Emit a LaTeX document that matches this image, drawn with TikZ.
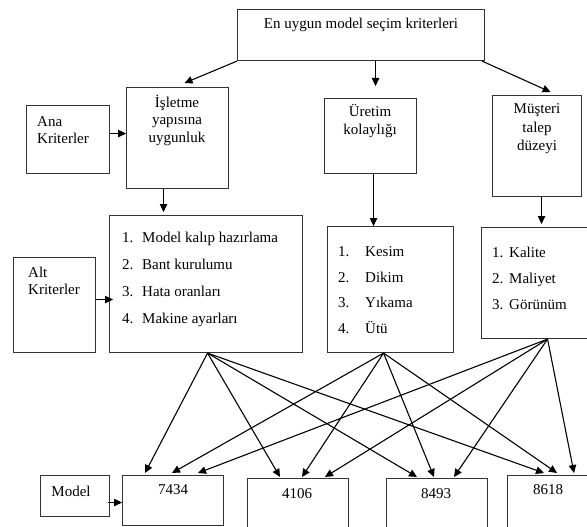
\documentclass[tikz,border=0pt]{standalone}
\usepackage{fontspec}
\setmainfont{Liberation Serif}
\usetikzlibrary{arrows.meta}
\begin{document}
\begin{tikzpicture}[x=1pt,y=-1pt,
  box/.style={draw=black!80, line width=1.1pt, rectangle, anchor=north west, inner sep=0pt},
  arr/.style={-{Triangle[length=8pt,width=7.5pt]}, line width=1.1pt, black},
  txt/.style={inner sep=0pt, font=\fontsize{15}{17.5}\selectfont, align=center}
]
\useasboundingbox (0,0) rectangle (587,527);
\clip (0,0) rectangle (587,527);
\fill[white] (0,0) rectangle (587,527);

% boxes
\node[box, minimum width=247pt, minimum height=51pt]  (top)   at (237,9)   {};
\node[box, minimum width=102pt, minimum height=101pt] (isl)   at (126,87)  {};
\node[box, minimum width=83pt,  minimum height=68pt]  (ana)   at (26,105)  {};
\node[box, minimum width=92pt,  minimum height=75pt]  (ure)   at (324,98)  {};
\node[box, minimum width=89pt,  minimum height=101pt] (mus)   at (492,95)  {};
\node[box, minimum width=193pt, minimum height=137pt] (l1)    at (109,215) {};
\node[box, minimum width=82pt,  minimum height=95pt]  (alt)   at (13,257)  {};
\node[box, minimum width=126pt, minimum height=126pt] (l2)    at (327,226) {};
\node[box, minimum width=109pt, minimum height=111pt] (l3)    at (481,227) {};
\node[box, minimum width=69pt,  minimum height=41pt]  (model) at (40,475)  {};
\node[box, minimum width=101pt, minimum height=50pt]  (b7434) at (122,475) {};
\node[box, minimum width=101pt, minimum height=54pt]  (b4106) at (247,478) {};
\node[box, minimum width=101pt, minimum height=54pt]  (b8493) at (386,478) {};
\node[box, minimum width=95pt,  minimum height=57pt]  (b8618) at (507,475) {};

% texts
\node[txt] (ttop) at (361,25) {En uygun model seçim kriterleri};
\node[txt] (tisl) at (177,120) {İşletme\\yapısına\\uygunluk};
\node[txt, align=left, anchor=west] (tana) at (37,130) {Ana\\Kriterler};
\node[txt] (ture) at (370,121) {Üretim\\kolaylığı};
\node[txt, font=\fontsize{15}{18.5}\selectfont] (tmus) at (537,129) {Müşteri\\talep\\düzeyi};
\node[txt, align=left, anchor=west] (talt) at (28,281) {Alt\\Kriterler};
\node[txt, align=left, anchor=west] (tl1) at (122,279)
  {\makebox[20pt][l]{1.}Model kalıp hazırlama\\[9.5pt]
   \makebox[20pt][l]{2.}Bant kurulumu\\[9.5pt]
   \makebox[20pt][l]{3.}Hata oranları\\[9.5pt]
   \makebox[20pt][l]{4.}Makine ayarları};
\node[txt, align=left, anchor=west] (tl2) at (338,290)
  {\makebox[27pt][l]{1.}Kesim\\[8.2pt]
   \makebox[27pt][l]{2.}Dikim\\[8.2pt]
   \makebox[27pt][l]{3.}Yıkama\\[8.2pt]
   \makebox[27pt][l]{4.}Ütü};
\node[txt, align=left, anchor=west] (tl3) at (492,278)
  {\makebox[17pt][l]{1.}Kalite\\[8.5pt]
   \makebox[17pt][l]{2.}Maliyet\\[8.5pt]
   \makebox[17pt][l]{3.}Görünüm};
\node[txt] (tmodel) at (71,491) {Model};
\node[txt] (t7434) at (173,490) {7434};
\node[txt] (t4106) at (297,494) {4106};
\node[txt] (t8493) at (436,494) {8493};
\node[txt] (t8618) at (548,490) {8618};

% top level arrows
\draw[arr] (top.south west) -- ([xshift=7pt,yshift=4pt]isl.north);
\draw[arr] ([xshift=14.5pt]top.south) -- ([xshift=5pt,yshift=12pt]ure.north);
\draw[arr] ([xshift=-3pt]top.south east) -- ([xshift=13.5pt,yshift=3pt]mus.north);
\draw[arr] ([yshift=6pt]ana.east) -- ([yshift=6pt]ana.east -| isl.west);
\coordinate (ia) at ([xshift=-14pt]isl.south);
\draw[arr] (ia) -- ([yshift=3pt]ia |- l1.north);
\coordinate (ua) at ([xshift=3pt]ure.south);
\draw[arr] (ua) -- (ua |- l2.north);
\coordinate (ma) at ([xshift=4.5pt]mus.south);
\draw[arr] (ma) -- ([yshift=3pt]ma |- l3.north);
\draw[arr] ([yshift=5.5pt]alt.east) -- ([yshift=5.5pt,xshift=4pt]alt.east -| l1.west);
\draw[arr] ([yshift=-6.5pt,xshift=-2pt]model.east) -- ([yshift=-6.5pt]model.east -| b7434.west);

% cross arrows
\coordinate (s1) at ([xshift=1.5pt]l1.south);
\coordinate (s2) at ([xshift=-7pt]l2.south);
\coordinate (s3) at ([xshift=11.5pt]l3.south);
\draw[arr] (s1) -- ([xshift=23pt,yshift=2pt]b7434.north west);
\draw[arr] (s2) -- ([xshift=50pt,yshift=2pt]b7434.north west);
\draw[arr] (s3) -- ([xshift=76pt,yshift=2pt]b7434.north west);
\draw[arr] (s1) -- ([xshift=33pt,yshift=1pt]b4106.north west);
\draw[arr] (s2) -- ([xshift=55pt,yshift=1pt]b4106.north west);
\draw[arr] (s3) -- ([xshift=78pt,yshift=1pt]b4106.north west);
\draw[arr] (s1) -- ([xshift=31pt,yshift=1pt]b8493.north west);
\draw[arr] (s2) -- ([xshift=48pt,yshift=1pt]b8493.north west);
\draw[arr] (s3) -- ([xshift=68pt,yshift=1pt]b8493.north west);
\draw[arr] (s1) -- ([xshift=37pt,yshift=2pt]b8618.north west);
\draw[arr] (s2) -- ([xshift=50pt,yshift=2pt]b8618.north west);
\draw[arr] (s3) -- ([xshift=67pt,yshift=2pt]b8618.north west);
\end{tikzpicture}
\end{document}
